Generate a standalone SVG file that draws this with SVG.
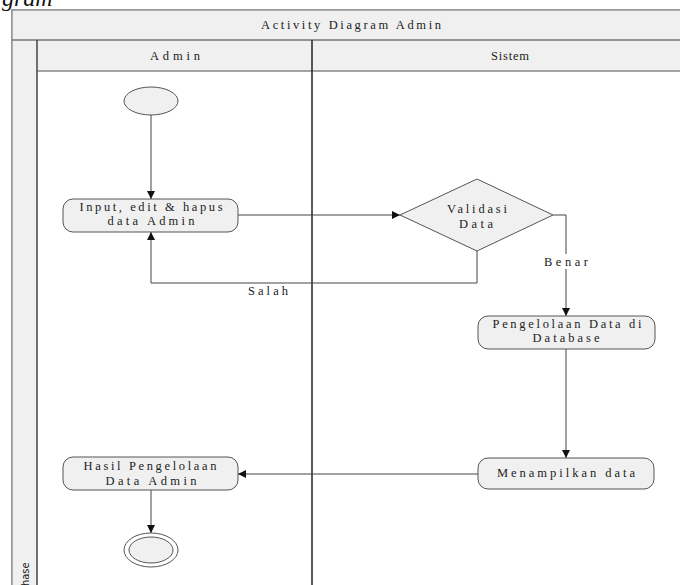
<svg xmlns="http://www.w3.org/2000/svg" width="680" height="585" viewBox="0 0 680 585">
<defs>
<style>
.t{font-family:'Liberation Serif','DejaVu Serif','Times New Roman',Times,serif;font-size:12.5px;fill:#222;text-anchor:middle}
.box{fill:#f0f0f0;stroke:#555;stroke-width:1}
.band{fill:#f0f0f0}
.ln{fill:none;stroke:#444;stroke-width:1}
</style>
<marker id="ah" viewBox="0 0 10 10" refX="10" refY="5" markerWidth="8" markerHeight="8" orient="auto" markerUnits="userSpaceOnUse">
<path d="M0,0 L10,5 L0,10 z" fill="#111"/>
</marker>
</defs>
<rect x="0" y="0" width="680" height="585" fill="#fff"/>
<text x="2" y="6" font-family="'Liberation Serif','DejaVu Serif',serif" font-style="italic" font-size="24" fill="#111">gram</text>
<g id="frame">
<rect x="12" y="10" width="690" height="600" fill="#fff" stroke="#777" stroke-width="1.5"/>
<rect class="band" x="12.75" y="10.75" width="690" height="29.5"/>
<rect class="band" x="12.75" y="40" width="24.25" height="560"/>
<rect class="band" x="37" y="40" width="670" height="31"/>
<line x1="12" y1="40" x2="690" y2="40" stroke="#777" stroke-width="1.5"/>
<line x1="37" y1="71" x2="690" y2="71" stroke="#888" stroke-width="1.5"/>
<line x1="37" y1="40" x2="37" y2="590" stroke="#444" stroke-width="1.5"/>
<line x1="312" y1="40" x2="312" y2="590" stroke="#222" stroke-width="1.5"/>
<text class="t" x="351" y="29" textLength="180" lengthAdjust="spacing">Activity Diagram Admin</text>
<text class="t" x="175" y="60" textLength="50" lengthAdjust="spacing">Admin</text>
<text class="t" x="510" y="60" textLength="38" lengthAdjust="spacing">Sistem</text>
<text transform="translate(29,592) rotate(-90)" font-family="'DejaVu Sans Condensed','Liberation Sans Narrow',sans-serif" font-size="11" font-stretch="condensed" fill="#222">Phase</text>
</g>
<g id="connectors">
<line class="ln" x1="151" y1="115" x2="151" y2="199" marker-end="url(#ah)"/>
<line class="ln" x1="238" y1="215" x2="400" y2="215" marker-end="url(#ah)"/>
<polyline class="ln" points="477,251 477,283 151,283 151,232" marker-end="url(#ah)"/>
<polyline class="ln" points="553,215 566,215 566,316" marker-end="url(#ah)"/>
<line class="ln" x1="566" y1="349" x2="566" y2="458" marker-end="url(#ah)"/>
<line class="ln" x1="478" y1="474" x2="238" y2="474" marker-end="url(#ah)"/>
<line class="ln" x1="151" y1="490" x2="151" y2="533" marker-end="url(#ah)"/>
<rect x="543" y="254" width="46" height="15" fill="#fff"/>
<text class="t" x="566" y="266" textLength="44" lengthAdjust="spacing">Benar</text>
<text class="t" x="268" y="295" textLength="40" lengthAdjust="spacing">Salah</text>
</g>
<g id="start">
<ellipse cx="151" cy="101" rx="27" ry="14" fill="#f0f0f0" stroke="#555"/>
</g>
<g id="input">
<rect class="box" x="63" y="199" width="175" height="33" rx="10"/>
<text class="t" x="151" y="211" textLength="143" lengthAdjust="spacing">Input, edit &amp; hapus</text>
<text class="t" x="151" y="225" textLength="87" lengthAdjust="spacing">data Admin</text>
</g>
<g id="validasi">
<polygon class="box" points="400,215 477,179 553,215 477,251"/>
<text class="t" x="477" y="213" textLength="60" lengthAdjust="spacing">Validasi</text>
<text class="t" x="476" y="228" textLength="34" lengthAdjust="spacing">Data</text>
</g>
<g id="pengelolaan">
<rect class="box" x="478" y="316" width="177" height="33" rx="10"/>
<text class="t" x="567" y="328" textLength="149" lengthAdjust="spacing">Pengelolaan Data di</text>
<text class="t" x="566" y="342" textLength="67" lengthAdjust="spacing">Database</text>
</g>
<g id="menampilkan">
<rect class="box" x="478" y="458" width="176" height="31" rx="10"/>
<text class="t" x="566" y="477" textLength="138" lengthAdjust="spacing">Menampilkan data</text>
</g>
<g id="hasil">
<rect class="box" x="63" y="457" width="175" height="33" rx="10"/>
<text class="t" x="150" y="470" textLength="133" lengthAdjust="spacing">Hasil Pengelolaan</text>
<text class="t" x="151" y="485" textLength="91" lengthAdjust="spacing">Data Admin</text>
</g>
<g id="end">
<ellipse cx="151" cy="550" rx="27" ry="17" fill="#fff" stroke="#555"/>
<ellipse cx="151" cy="550" rx="22" ry="13" fill="#f0f0f0" stroke="#555"/>
</g>
</svg>
